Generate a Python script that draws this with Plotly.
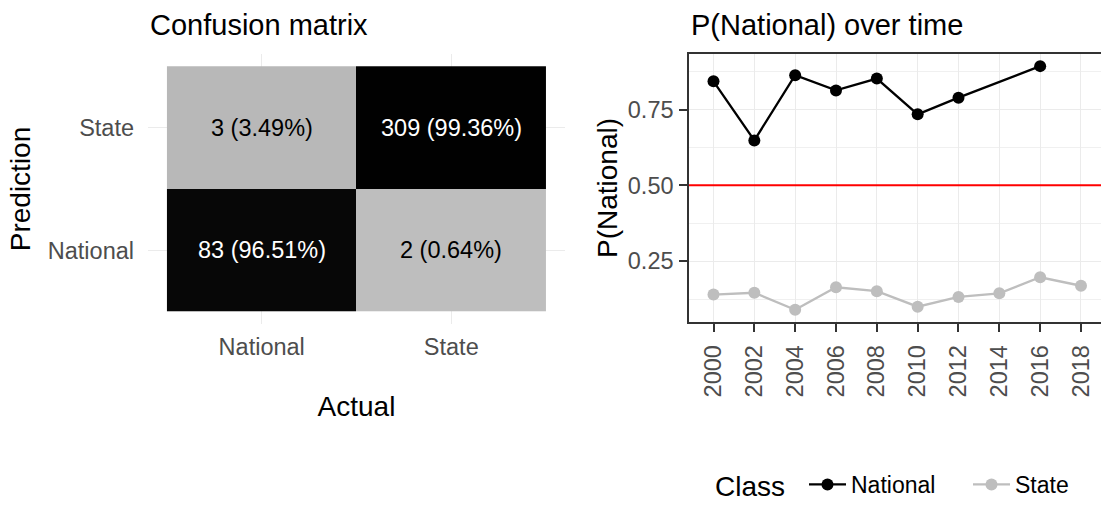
import plotly.graph_objects as go

# ---- data ----
cm_actual = ["National", "State"]
cm_pred = ["National", "State"]
# counts[pred][actual]
cm_counts = [[83, 2], [3, 309]]
cm_pcts = [[96.51, 0.64], [3.49, 99.36]]

years = ["2000", "2002", "2004", "2006", "2008", "2010", "2012", "2014", "2016", "2018"]
p_national = [0.843, 0.648, 0.863, 0.813, 0.852, 0.734, 0.789, None, 0.893, None]
p_state = [0.140, 0.146, 0.090, 0.164, 0.151, 0.100, 0.132, 0.144, 0.197, 0.169]
threshold = 0.5

W, H = 1101, 506
FONT = "Liberation Sans, Arial, Helvetica, sans-serif"
TICK_COL = "#4d4d4d"
GRID = "#ebebeb"
TICK_SIZE = 23.5

def px_x(v):
    return v / W

def px_y(v):
    return 1 - v / H

fig = go.Figure()

# ---- confusion matrix heatmap ----
fig.add_trace(go.Heatmap(
    x=cm_actual, y=cm_pred, z=cm_pcts,
    colorscale=[[0, "#bfbfbf"], [1, "#000000"]], zmin=0, zmax=100,
    showscale=False, hoverinfo="skip", xaxis="x", yaxis="y", showlegend=False,
))
annotations = []
for i, p in enumerate(cm_pred):
    for j, a in enumerate(cm_actual):
        pct = cm_pcts[i][j]
        annotations.append(dict(
            x=a, y=p, xref="x", yref="y",
            text=f"{cm_counts[i][j]} ({pct:.2f}%)", showarrow=False,
            font=dict(family=FONT, size=TICK_SIZE, color="white" if pct > 50 else "black"),
        ))

# ---- time series ----
fig.add_trace(go.Scatter(
    x=years, y=p_national, name="National", mode="lines+markers",
    line=dict(color="black", width=2.3), marker=dict(color="black", size=12),
    connectgaps=True, xaxis="x2", yaxis="y2",
))
fig.add_trace(go.Scatter(
    x=years, y=p_state, name="State", mode="lines+markers",
    line=dict(color="#bebebe", width=2.3), marker=dict(color="#bebebe", size=12),
    connectgaps=True, xaxis="x2", yaxis="y2",
))

fig.add_shape(type="line", xref="x2 domain", yref="y2", x0=0, x1=1,
              y0=threshold, y1=threshold, line=dict(color="red", width=2), layer="above")

# titles
annotations += [
    dict(text="Confusion matrix", x=px_x(148), y=px_y(25), xref="paper", yref="paper",
         xanchor="left", yanchor="middle", showarrow=False,
         font=dict(family=FONT, size=29, color="black")),
    dict(text="P(National) over time", x=px_x(689), y=px_y(25), xref="paper", yref="paper",
         xanchor="left", yanchor="middle", showarrow=False,
         font=dict(family=FONT, size=29, color="black")),
    # legend title
    dict(text="Class", x=px_x(714), y=px_y(486), xref="paper", yref="paper",
         xanchor="left", yanchor="middle", showarrow=False, borderpad=0,
         font=dict(family=FONT, size=28, color="black")),
]

fig.update_layout(
    width=W, height=H, margin=dict(l=0, r=0, t=0, b=0, autoexpand=False),
    paper_bgcolor="white", plot_bgcolor="white",
    font=dict(family=FONT),
    annotations=annotations,
    xaxis=dict(
        domain=[px_x(148), px_x(565)], range=[-0.6, 1.6], type="category",
        categoryorder="array", categoryarray=cm_actual,
        showgrid=True, gridcolor=GRID, gridwidth=1.4, zeroline=False, showline=False,
        ticks="", ticklabelstandoff=6, automargin=False,
        tickfont=dict(family=FONT, size=TICK_SIZE, color=TICK_COL),
        title=dict(text="Actual", font=dict(family=FONT, size=28, color="black"), standoff=37),
        anchor="y", fixedrange=True,
    ),
    yaxis=dict(
        domain=[px_y(324), px_y(54)], range=[-0.6, 1.6], type="category",
        categoryorder="array", categoryarray=cm_pred,
        showgrid=True, gridcolor=GRID, gridwidth=1.4, zeroline=False, showline=False,
        ticks="", ticklabelstandoff=13, automargin=False,
        tickfont=dict(family=FONT, size=TICK_SIZE, color=TICK_COL),
        title=dict(text="Prediction", font=dict(family=FONT, size=28, color="black"), standoff=8),
        anchor="x", fixedrange=True,
    ),
    xaxis2=dict(
        domain=[px_x(689), 1.0], range=[-0.6, 9.49], type="category",
        categoryorder="array", categoryarray=years,
        showgrid=True, gridcolor=GRID, gridwidth=1.4, zeroline=False,
        showline=True, linecolor="#333333", linewidth=1.5, mirror=True,
        ticks="outside", ticklen=8, tickwidth=1.5, tickcolor="#333333",
        tickangle=-90, ticklabelstandoff=4, automargin=False,
        tickfont=dict(family=FONT, size=TICK_SIZE, color=TICK_COL),
        anchor="y2", fixedrange=True,
    ),
    yaxis2=dict(
        domain=[px_y(322), px_y(54)], range=[0.0495, 0.933],
        tick0=0, dtick=0.25, tickformat=".2f",
        showgrid=True, gridcolor=GRID, gridwidth=1.4, zeroline=False,
        showline=True, linecolor="#333333", linewidth=1.5,
        ticks="outside", ticklen=8, tickwidth=1.5, tickcolor="#333333",
        ticklabelstandoff=1, automargin=False,
        minor=dict(dtick=0.125, tick0=0, showgrid=True, gridcolor="#f0f0f0", gridwidth=0.9, ticks=""),
        tickfont=dict(family=FONT, size=TICK_SIZE, color=TICK_COL),
        title=dict(text="P(National)", font=dict(family=FONT, size=28, color="black"), standoff=2),
        anchor="x2", fixedrange=True,
    ),
    showlegend=True,
    legend=dict(
        orientation="h", x=px_x(804), xanchor="left", y=0, yanchor="bottom",
        font=dict(family=FONT, size=TICK_SIZE - 0.5, color="black"),
        itemwidth=37, entrywidth=112,
        bgcolor="rgba(0,0,0,0)",
    ),
)

fig.write_html(
    "out.html",
    config={"displayModeBar": False},
    post_script="document.body.style.margin='0';document.body.style.overflow='hidden';",
)
